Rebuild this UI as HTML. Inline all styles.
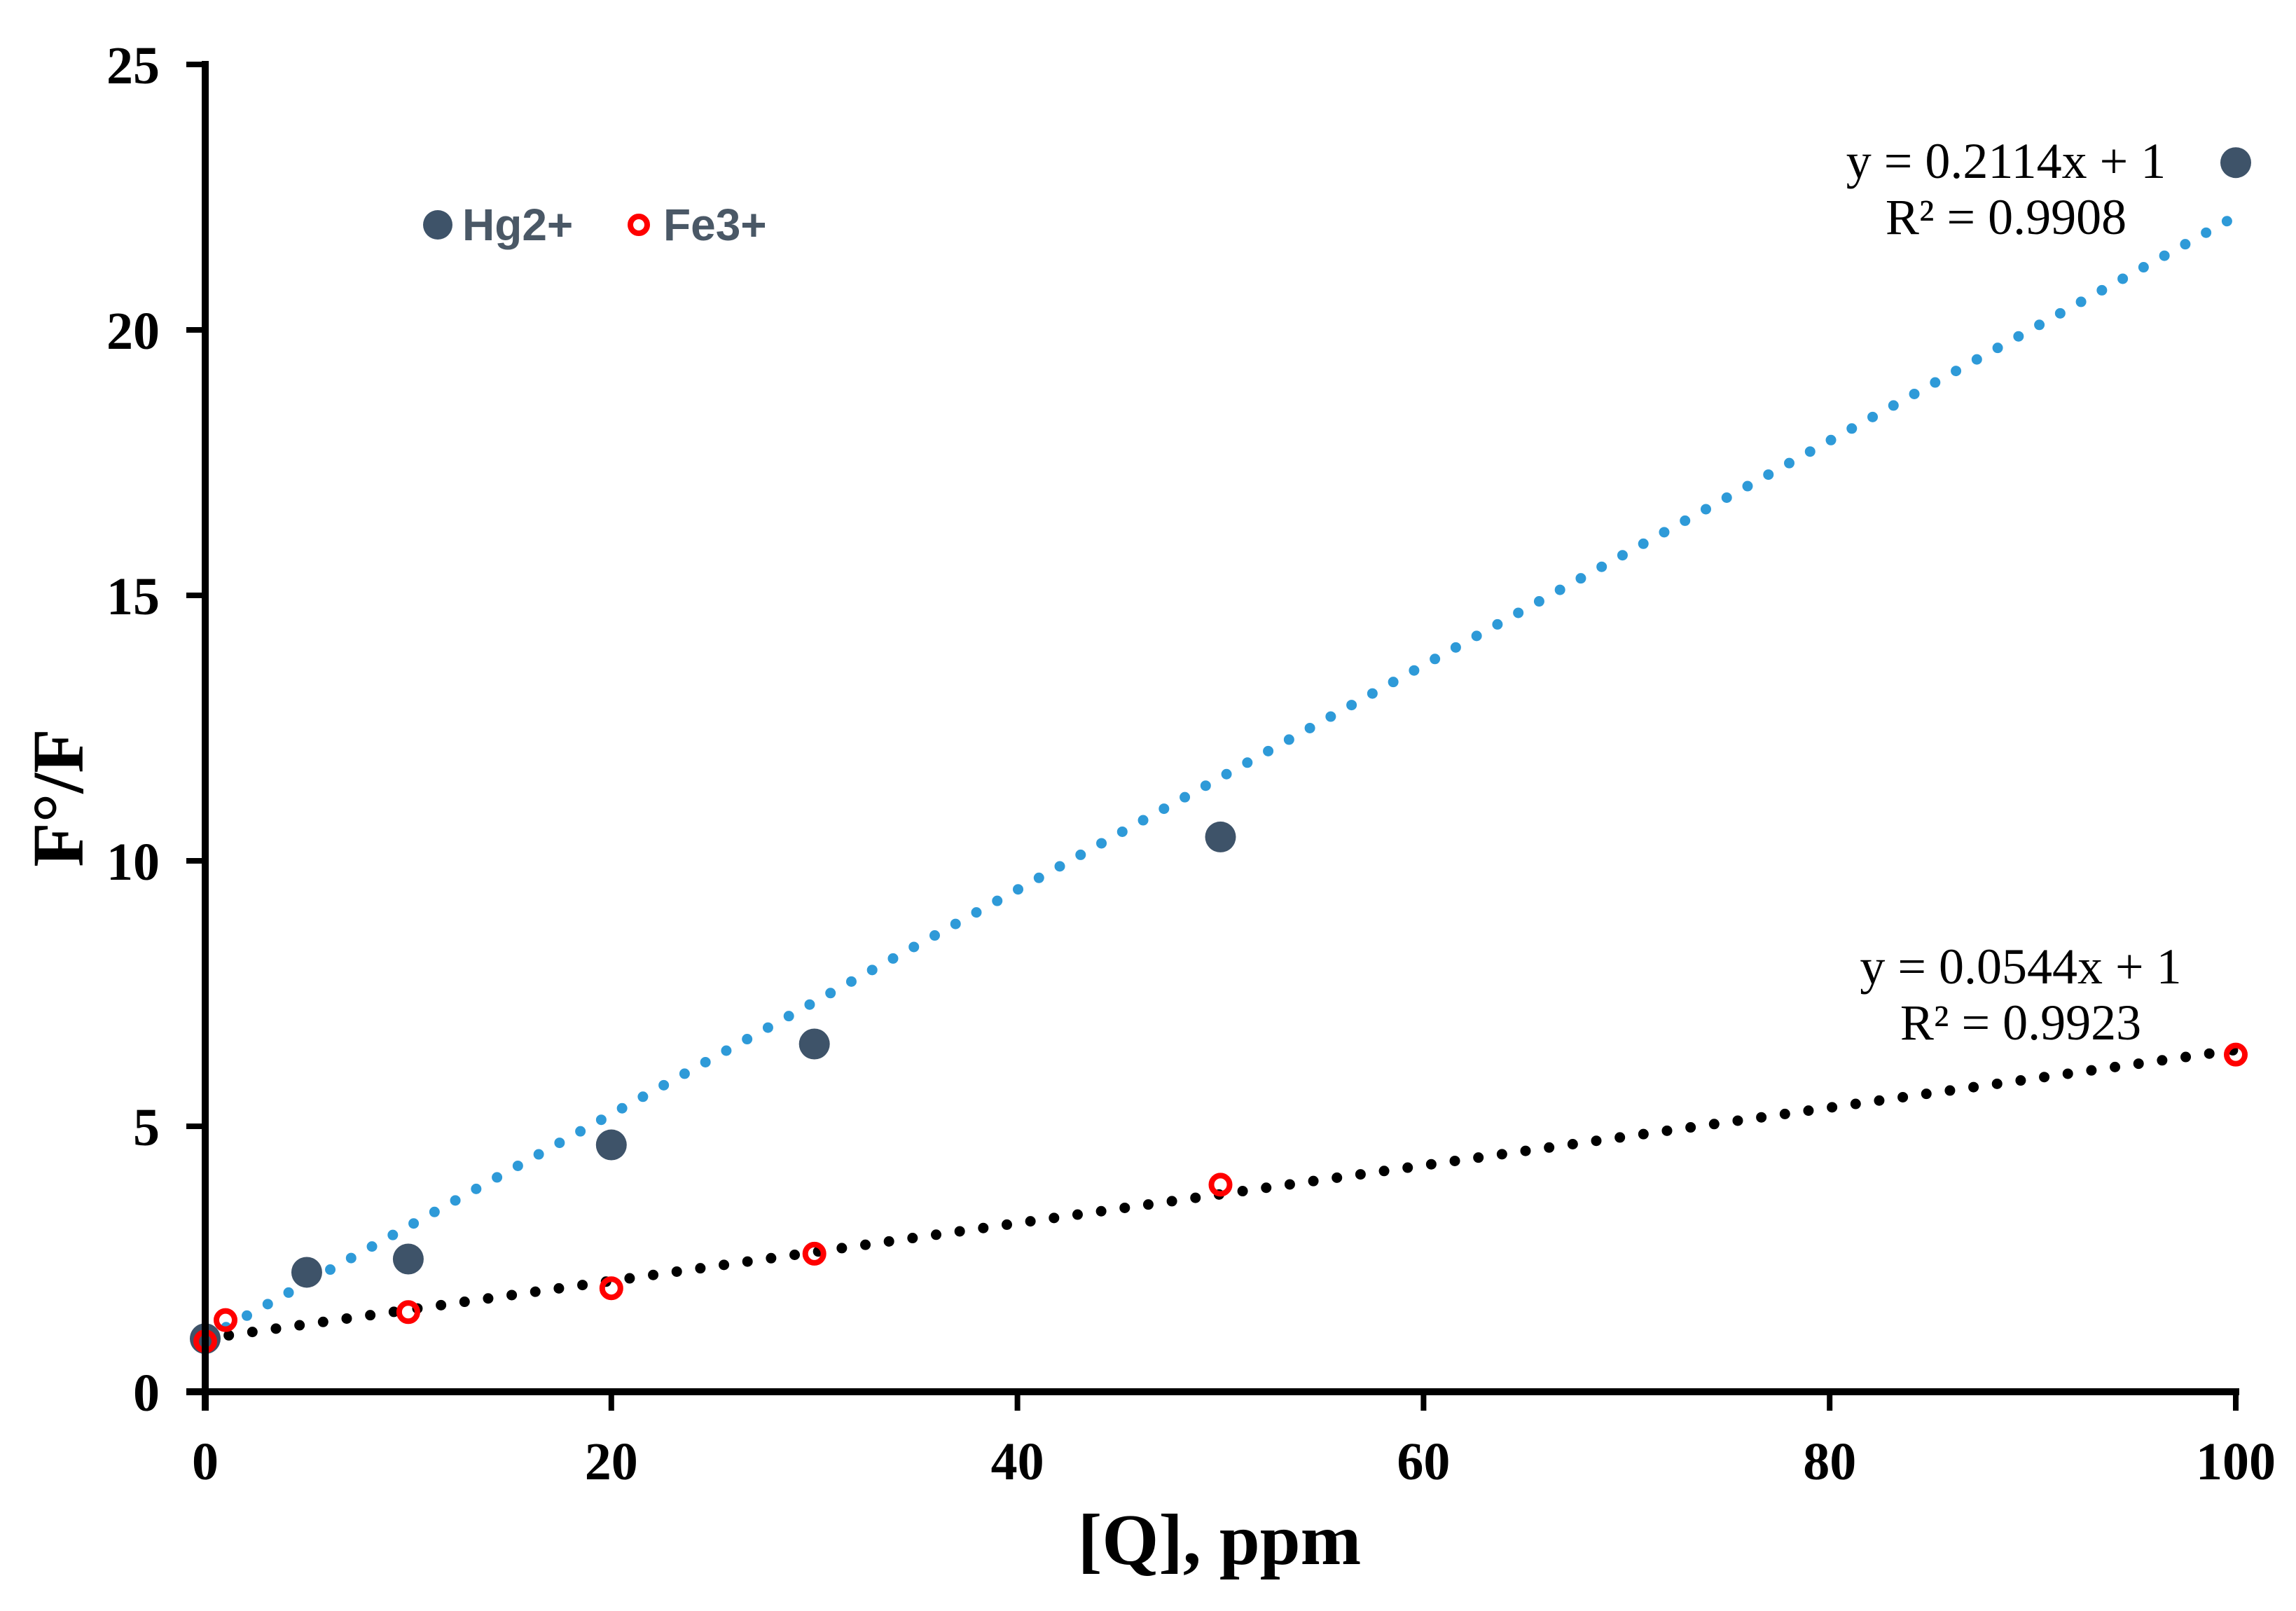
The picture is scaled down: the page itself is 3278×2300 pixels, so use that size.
<!DOCTYPE html>
<html><head><meta charset="utf-8"><style>
html,body{margin:0;padding:0;background:#fff;}
svg{display:block;}
text{font-family:"Liberation Serif",serif;}
</style></head><body>
<svg id="chart" width="3278" height="2300" viewBox="0 0 3278 2300" xmlns="http://www.w3.org/2000/svg"></svg>
<script>
const xTicks = [0, 20, 40, 60, 80, 100];
const yTicks = [0, 5, 10, 15, 20, 25];
const hgX = [0, 5, 10, 20, 30, 50, 100];
const hgY = [1.0, 2.25, 2.5, 4.65, 6.55, 10.45, 23.15];
const feX = [0, 1, 10, 20, 30, 50, 100];
const feY = [0.95, 1.35, 1.5, 1.95, 2.6, 3.9, 6.35];
const hgFit = [0.2114, 1];
const feFit = [0.0544, 1];

const NS = 'http://www.w3.org/2000/svg';
const svg = document.getElementById('chart');
const X0 = 293, X1 = 3192, Y0 = 1987, Y1 = 92;
const sx = v => X0 + (v - 0) / 100 * (X1 - X0);
const sy = v => Y0 - v / 25 * (Y0 - Y1);
function mk(tag, attrs, parent) {
  const e = document.createElementNS(NS, tag);
  for (const k in attrs) e.setAttribute(k, attrs[k]);
  (parent || svg).appendChild(e);
  return e;
}
let t = mk('line', {x1: sx(0), y1: sy(hgFit[1]), x2: sx(100), y2: sy(hgFit[0]*100+hgFit[1]), stroke: '#2E9AD8', 'stroke-width': 15, 'stroke-dasharray': '0 34', 'stroke-linecap': 'round'});


t = mk('line', {x1: sx(0), y1: sy(feFit[1]), x2: sx(100), y2: sy(feFit[0]*100+feFit[1]), stroke: '#000', 'stroke-width': 15, 'stroke-dasharray': '0 34', 'stroke-linecap': 'round'});


hgX.forEach((x, i) => {
  const c = mk('circle', {cx: sx(x), cy: sy(hgY[i]), r: 22, fill: '#3E5369'});
  
  
});
feX.forEach((x, i) => {
  const c = mk('circle', {cx: sx(x), cy: sy(feY[i]), r: 13, fill: 'none', stroke: '#FF0000', 'stroke-width': 8});
  
  
});
let a = mk('line', {x1: X0, y1: Y1 - 5, x2: X0, y2: Y0 + 27, stroke: '#000', 'stroke-width': 10});


a = mk('line', {x1: X0 - 27, y1: Y0, x2: X1 + 5, y2: Y0, stroke: '#000', 'stroke-width': 10});


yTicks.forEach(v => {
  const l = mk('line', {x1: X0 - 27, y1: sy(v), x2: X0, y2: sy(v), stroke: '#000', 'stroke-width': 8});
  
  
  const tx = mk('text', {x: 228, y: sy(v) + 27, 'text-anchor': 'end', 'font-size': 76, 'font-weight': 'bold'});
  tx.textContent = v;
  
  
});
xTicks.forEach(v => {
  const l = mk('line', {x1: sx(v), y1: Y0, x2: sx(v), y2: Y0 + 27, stroke: '#000', 'stroke-width': 8});
  
  
  const tx = mk('text', {x: sx(v), y: 2112, 'text-anchor': 'middle', 'font-size': 76, 'font-weight': 'bold'});
  tx.textContent = v;
  
  
});
</script>
<script>
(function(){
const NS='http://www.w3.org/2000/svg';const svg=document.getElementById('chart');
function txt(x,y,s,attrs,name){const e=document.createElementNS(NS,'text');e.setAttribute('x',x);e.setAttribute('y',y);for(const k in attrs)e.setAttribute(k,attrs[k]);e.textContent=s;


svg.appendChild(e);return e;}
txt(1741,2233,'[Q], ppm',{'text-anchor':'middle','font-size':104,'font-weight':'bold'},'x-axis-title');
txt(0,0,'F°/F',{'text-anchor':'middle','font-size':104,'font-weight':'bold','transform':'translate(118,1139) rotate(-90)'},'y-axis-title');
txt(2864,254,'y = 0.2114x + 1',{'text-anchor':'middle','font-size':72},'hg-equation');
txt(2864,334,'R² = 0.9908',{'text-anchor':'middle','font-size':72},'hg-r-squared');
txt(2885,1404,'y = 0.0544x + 1',{'text-anchor':'middle','font-size':72},'fe-equation');
txt(2885,1484,'R² = 0.9923',{'text-anchor':'middle','font-size':72},'fe-r-squared');
let c=document.createElementNS(NS,'circle');c.setAttribute('cx',625);c.setAttribute('cy',321);c.setAttribute('r',21);c.setAttribute('fill','#3E5369');


svg.appendChild(c);
txt(660,343,'Hg2+',{'style':'font-family:"Liberation Sans",sans-serif','font-size':64,'font-weight':'bold','fill':'#4A5866'},'legend-hg-label');
c=document.createElementNS(NS,'circle');c.setAttribute('cx',912);c.setAttribute('cy',321);c.setAttribute('r',12);c.setAttribute('fill','#fff');c.setAttribute('stroke','#FF0000');c.setAttribute('stroke-width',8);


svg.appendChild(c);
txt(947,343,'Fe3+',{'style':'font-family:"Liberation Sans",sans-serif','font-size':64,'font-weight':'bold','fill':'#4A5866'},'legend-fe-label');
})();
</script>
</body></html>
